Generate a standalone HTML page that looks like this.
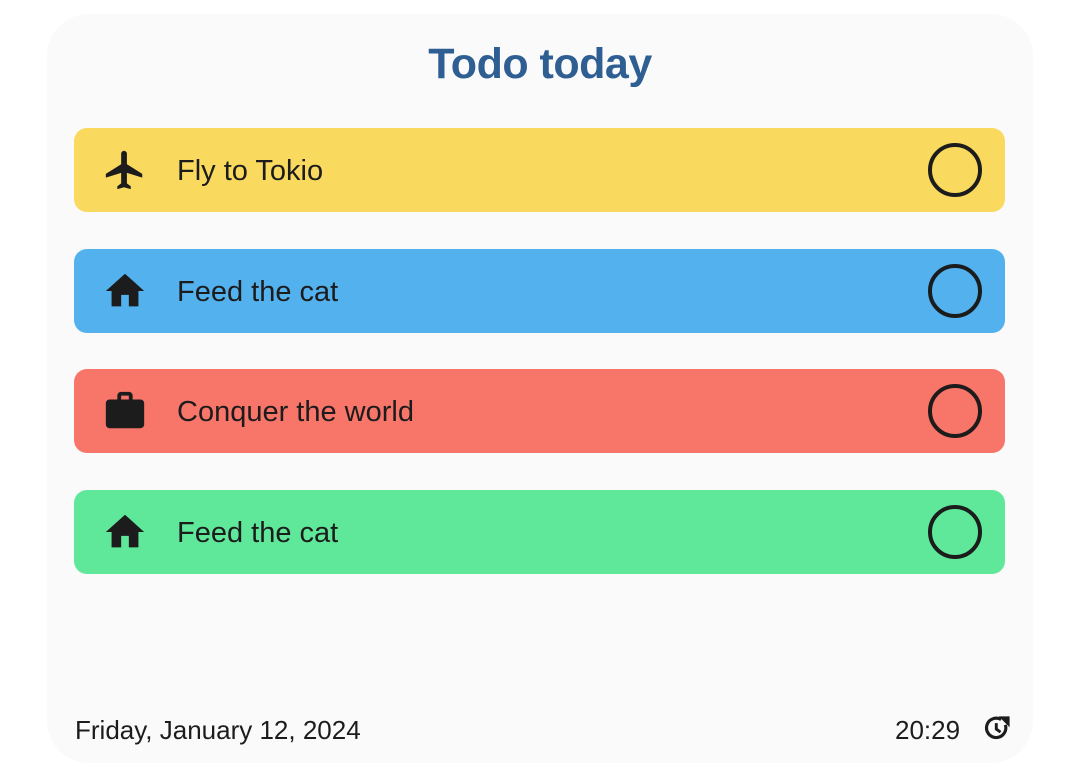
<!DOCTYPE html>
<html><head><meta charset="utf-8"><style>
body{margin:0;width:1080px;height:778px;background:#fff;font-family:"Liberation Sans",sans-serif;position:relative;overflow:hidden}
.card{position:absolute;left:47px;top:14px;width:986px;height:749px;background:#fafafa;border-radius:42px}
.title{position:absolute;left:0;width:1080px;top:40px;text-align:center;font-size:43px;font-weight:bold;color:#2f5e93;letter-spacing:-0.5px}
.row{position:absolute;left:74px;width:931px;height:84px;border-radius:13px}
.row .t{position:absolute;left:103px;top:27px;font-size:29px;color:#1c1c1c}
.row svg.ic{position:absolute;left:28px;top:19px}
.row .c{position:absolute;left:854px;top:15px;width:46px;height:46px;border:4px solid #1c1c1c;border-radius:50%}
.foot{position:absolute;top:715px;font-size:26px;color:#1c1c1c}
</style></head><body>
<div class="card"></div>
<div class="title">Todo today</div>

<div class="row" style="top:128px;background:#f9da5f">
<svg class="ic" width="46" height="46" viewBox="0 0 24 24"><path fill="#1c1c1c" d="M21 16v-2l-8-5V3.5C13 2.67 12.33 2 11.5 2S10 2.67 10 3.5V9l-8 5v2l8-2.5V19l-2 1.5V22l3.5-1 3.5 1v-1.5L13 19v-5.5l8 2.5z"/></svg>
<div class="t">Fly to Tokio</div>
<div class="c"></div></div>

<div class="row" style="top:249px;background:#53b1ee">
<svg class="ic" width="46" height="46" viewBox="0 0 24 24"><path fill="#1c1c1c" d="M10 20v-6h4v6h5v-8h3L12 3 2 12h3v8z"/></svg>
<div class="t">Feed the cat</div>
<div class="c"></div></div>

<div class="row" style="top:369px;background:#f8756a">
<svg class="ic" width="46" height="46" viewBox="0 0 24 24"><path fill="#1c1c1c" d="M20 6h-4V4c0-1.11-.89-2-2-2h-4c-1.11 0-2 .89-2 2v2H4c-1.11 0-2 .89-2 2v11c0 1.11.89 2 2 2h16c1.11 0 2-.89 2-2V8c0-1.11-.89-2-2-2zm-6 0h-4V4h4v2z"/></svg>
<div class="t">Conquer the world</div>
<div class="c"></div></div>

<div class="row" style="top:490px;background:#60e89a">
<svg class="ic" width="46" height="46" viewBox="0 0 24 24"><path fill="#1c1c1c" d="M10 20v-6h4v6h5v-8h3L12 3 2 12h3v8z"/></svg>
<div class="t">Feed the cat</div>
<div class="c"></div></div>

<div class="foot" style="left:75px">Friday, January 12, 2024</div>
<div class="foot" style="left:895px">20:29</div>
<svg style="position:absolute;left:983px;top:714px" width="29" height="29" viewBox="0 0 24 24"><path fill="none" stroke="#1c1c1c" stroke-width="2.6" d="M18.5 9A8 8 0 1 1 15 4.6"/><path fill="#1c1c1c" d="M13 2h9v9z"/><path fill="none" stroke="#1c1c1c" stroke-width="2.4" d="M11 7.5v5l3.5 2.5"/></svg>
</body></html>
